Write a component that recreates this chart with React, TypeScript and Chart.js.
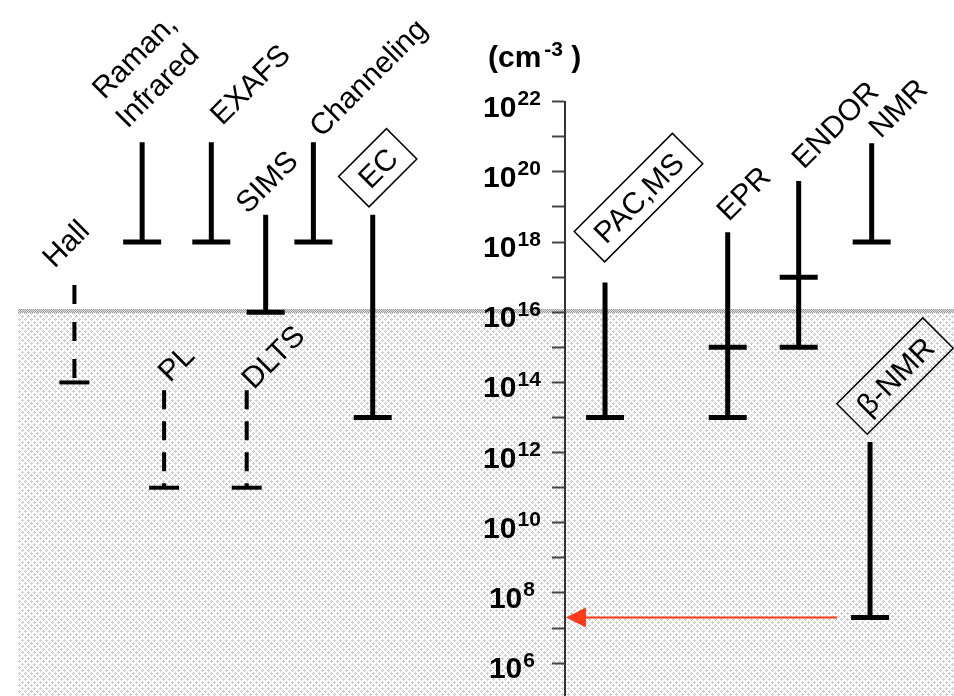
import React, { useEffect, useRef } from 'react';
import { Chart, registerables } from 'chart.js';

Chart.register(...registerables);

// ---- data ----
const methods: (string | string[])[] = [
  'Hall', ['Raman,', 'Infrared'], 'EXAFS', 'SIMS', 'Channeling', 'EC',
  'PL', 'DLTS', 'PAC,MS', 'EPR', 'ENDOR', 'NMR', 'β-NMR',
];
// upper end of the sensitivity range (cm^-3)
const upperLimit = [6e16, 7e20, 7e20, 6e18, 7e20, 6e18, 6e13, 6e13, 7e16, 1.9e18, 5.5e19, 6.5e20, 2e12];
// lower end (detection limit, cm^-3)
const lowerLimit = [1e14, 1e18, 1e18, 1e16, 1e18, 1e13, 1e11, 1e11, 1e13, 1e13, 1e15, 1e18, 2e7];
// intermediate limit marks
const intermediateMark: (number | null)[] = [null, null, null, null, null, null, null, null, null, 1e15, 1e17, null, null];
// dashed (uncertain) ranges
const dashedRange = [true, false, false, false, false, false, true, true, false, false, false, false, false];
// boxed (nuclear / hyperfine) methods
const boxedLabel = [false, false, false, false, false, true, false, false, true, false, false, false, true];

// y axis ticks (exponents of ten)
const tickExponents = [6, 7, 8, 9, 10, 11, 12, 13, 14, 15, 16, 17, 18, 19, 20, 21, 22];
const labeledExponents = [6, 8, 10, 12, 14, 16, 18, 20, 22];
const axisUnit = ['(cm', '-3', ' )'];
const thresholdConc = 1e16;
const arrowConc = 2e7;
const yMin = 1.16e5;
const yMax = 1e22;

// ---- layout (horizontal slot of each method, 0..100 across the figure) ----
const methodSlot = [7.8, 14.9, 22.15, 27.85, 32.85, 39.07, 17.2, 25.86, 63.42, 76.28, 83.72, 91.37, 91.2];
const axisSlot = 59.22;
const shadeStartSlot = 1.9;

const FONT = '"Liberation Sans", Arial, Helvetica, sans-serif';

// label anchor offsets (px) relative to the top of each range
const labelOffset: [number, number][] = [
  [-20, -16], [-38, -42], [11, -16], [-18, 0], [8, -4], [5, -47],
  [6, -7], [7, 0], [33.5, -85], [1, -10], [5, -11], [9, -4], [25, -66],
];

function makeShadePattern(ctx: CanvasRenderingContext2D) {
  const c = document.createElement('canvas');
  c.width = 6; c.height = 6;
  const g = c.getContext('2d')!;
  g.fillStyle = '#ffffff'; g.fillRect(0, 0, 6, 6);
  const dots: [number, number, string][] = [
    [1, 0, '#c4c4c4'], [0, 1, '#c4c4c4'], [2, 1, '#c4c4c4'], [1, 2, '#c4c4c4'], [1, 1, '#e4e4e4'],
    [4, 3, '#c4c4c4'], [3, 4, '#c4c4c4'], [5, 4, '#c4c4c4'], [4, 5, '#c4c4c4'], [4, 4, '#e4e4e4'],
  ];
  for (const [x, y, col] of dots) { g.fillStyle = col; g.fillRect(x, y, 1, 1); }
  return ctx.createPattern(c, 'repeat')!;
}

function makeBandPattern(ctx: CanvasRenderingContext2D) {
  const c = document.createElement('canvas');
  c.width = 2; c.height = 2;
  const g = c.getContext('2d')!;
  g.fillStyle = '#e2e2e2'; g.fillRect(0, 0, 2, 2);
  g.fillStyle = '#969696'; g.fillRect(0, 0, 1, 1); g.fillRect(1, 1, 1, 1);
  return ctx.createPattern(c, 'repeat')!;
}

const decoPlugin = {
  id: 'deco',
  beforeDraw(chart: any) {
    const { ctx, chartArea } = chart;
    const xs = chart.scales.x;
    const ys = chart.scales.y;
    const top = ys.getPixelForValue(thresholdConc);
    const left = xs.getPixelForValue(shadeStartSlot);
    ctx.save();
    ctx.fillStyle = '#ffffff';
    ctx.fillRect(0, 0, chart.width, chart.height);
    ctx.fillStyle = makeShadePattern(ctx);
    ctx.fillRect(left, top, chartArea.right - left, chart.height - top);
    ctx.fillStyle = makeBandPattern(ctx);
    ctx.fillRect(left, Math.round(top) - 3, chartArea.right - left, 4);
    ctx.restore();
  },
  afterDatasetsDraw(chart: any) {
    const { ctx, chartArea } = chart;
    const xs = chart.scales.x;
    const ys = chart.scales.y;
    const axisPx = xs.getPixelForValue(axisSlot);
    ctx.save();
    ctx.fillStyle = '#000';
    ctx.strokeStyle = '#000';

    // tick labels 10^n
    for (const e of labeledExponents) {
      const py = ys.getPixelForValue(Math.pow(10, e));
      ctx.font = `bold 30px ${FONT}`;
      const wb = ctx.measureText('10').width;
      ctx.font = `bold 21px ${FONT}`;
      const we = ctx.measureText(String(e)).width;
      const gap = 1;
      const total = wb + gap + we;
      const l = axisPx - 53 - total / 2;
      ctx.textAlign = 'left';
      ctx.textBaseline = 'alphabetic';
      ctx.font = `bold 30px ${FONT}`;
      ctx.fillText('10', l, py + 15);
      ctx.font = `bold 21px ${FONT}`;
      ctx.fillText(String(e), l + wb + gap, py + 3.5);
    }

    // unit
    {
      const bx = axisPx - 77;
      const by = chartArea.top - 35;
      ctx.font = `bold 30px ${FONT}`;
      ctx.fillText(axisUnit[0], bx, by);
      const w0 = ctx.measureText(axisUnit[0]).width;
      ctx.font = `bold 21px ${FONT}`;
      ctx.fillText(axisUnit[1], bx + w0 + 3, by - 11);
      const w1 = ctx.measureText(axisUnit[1]).width;
      ctx.font = `bold 30px ${FONT}`;
      ctx.fillText(axisUnit[2], bx + w0 + 3 + w1, by);
    }

    // method labels, rotated 45 degrees
    ctx.font = `30px ${FONT}`;
    methods.forEach((m, i) => {
      const px = xs.getPixelForValue(methodSlot[i]);
      const py = ys.getPixelForValue(upperLimit[i]);
      const [dx, dy] = labelOffset[i];
      ctx.save();
      ctx.translate(px + dx, py + dy);
      ctx.rotate(-Math.PI / 4);
      ctx.textBaseline = 'alphabetic';
      if (boxedLabel[i]) {
        const text = Array.isArray(m) ? m.join(' ') : m;
        const w = ctx.measureText(text).width;
        ctx.textAlign = 'center';
        ctx.fillText(text, 0, 10.5);
        ctx.lineWidth = 1.5;
        const bw = w + 26;
        const bh = 43;
        ctx.strokeRect(-bw / 2, -bh / 2, bw, bh);
      } else if (Array.isArray(m)) {
        ctx.textAlign = 'left';
        ctx.fillText(m[0], 0, 0);
        ctx.fillText(m[1], -4, 37);
      } else {
        ctx.textAlign = 'left';
        ctx.fillText(m, 0, 0);
      }
      ctx.restore();
    });

    // red arrow from beta-NMR detection limit to the axis
    {
      const bi = methods.length - 1;
      const ay = ys.getPixelForValue(arrowConc);
      const startX = xs.getPixelForValue(methodSlot[bi]) - 33;
      const tipX = axisPx + 1;
      ctx.strokeStyle = '#ff3a1a';
      ctx.fillStyle = '#ff3a1a';
      ctx.lineWidth = 2;
      ctx.beginPath();
      ctx.moveTo(startX, ay);
      ctx.lineTo(tipX + 18, ay);
      ctx.stroke();
      ctx.beginPath();
      ctx.moveTo(tipX, ay);
      ctx.lineTo(tipX + 20, ay - 10);
      ctx.lineTo(tipX + 20, ay + 10);
      ctx.closePath();
      ctx.fill();
    }
    ctx.restore();
  },
};

function buildDatasets() {
  return methods.map((m, i) => {
    const x = methodSlot[i];
    const dashed = dashedRange[i];
    const cap = dashed ? 15 : 19;
    const pts: { x: number; y: number }[] = [{ x, y: upperLimit[i] }];
    const radii: number[] = [0];
    const mid = intermediateMark[i];
    if (mid != null) { pts.push({ x, y: mid }); radii.push(cap); }
    pts.push({ x, y: lowerLimit[i] });
    radii.push(cap);
    const name = Array.isArray(m) ? m.join(' ') : m;
    const dash = dashed ? (name === 'Hall' ? [19, 18] : [19, 12]) : [];
    return {
      label: name,
      data: pts,
      showLine: true,
      borderColor: '#000',
      borderWidth: dashed ? 4 : 5,
      borderDash: dash,
      pointStyle: 'line',
      pointRadius: radii,
      pointHoverRadius: radii,
      pointBorderWidth: dashed ? 4 : 5,
      pointHoverBorderWidth: dashed ? 4 : 5,
      pointBorderColor: '#000',
      pointBackgroundColor: '#000',
      tension: 0,
      clip: false,
    };
  });
}

export default function App() {
  const ref = useRef<HTMLCanvasElement>(null);
  useEffect(() => {
    const canvas = ref.current!;
    const topPad = 101.7;
    const chart = new Chart(canvas, {
      type: 'scatter',
      data: { datasets: buildDatasets() as any },
      options: {
        responsive: false,
        animation: false,
        devicePixelRatio: 1,
        events: [],
        layout: { autoPadding: false, padding: { top: topPad, left: 0, right: 0, bottom: 0 } },
        plugins: { legend: { display: false }, tooltip: { enabled: false } },
        scales: {
          x: { type: 'linear', min: 0, max: 100, display: false },
          y: {
            type: 'logarithmic',
            min: yMin,
            max: yMax,
            position: { x: axisSlot } as any,
            afterBuildTicks: (scale: any) => {
              scale.ticks = tickExponents.map((e) => ({ value: Math.pow(10, e) }));
            },
            ticks: { display: false },
            grid: {
              display: true,
              drawOnChartArea: false,
              drawTicks: true,
              tickLength: 12,
              tickColor: '#444',
              tickWidth: 2,
            },
            border: { display: true, color: '#333', width: 2 },
          },
        },
      } as any,
      plugins: [decoPlugin],
    });
    return () => chart.destroy();
  }, []);
  return (
    <div style={{ position: 'fixed', left: 0, top: 0, width: 954, height: 696, background: '#fff' }}>
      <canvas ref={ref} width={954} height={696} style={{ display: 'block', width: 954, height: 696 }} />
    </div>
  );
}
